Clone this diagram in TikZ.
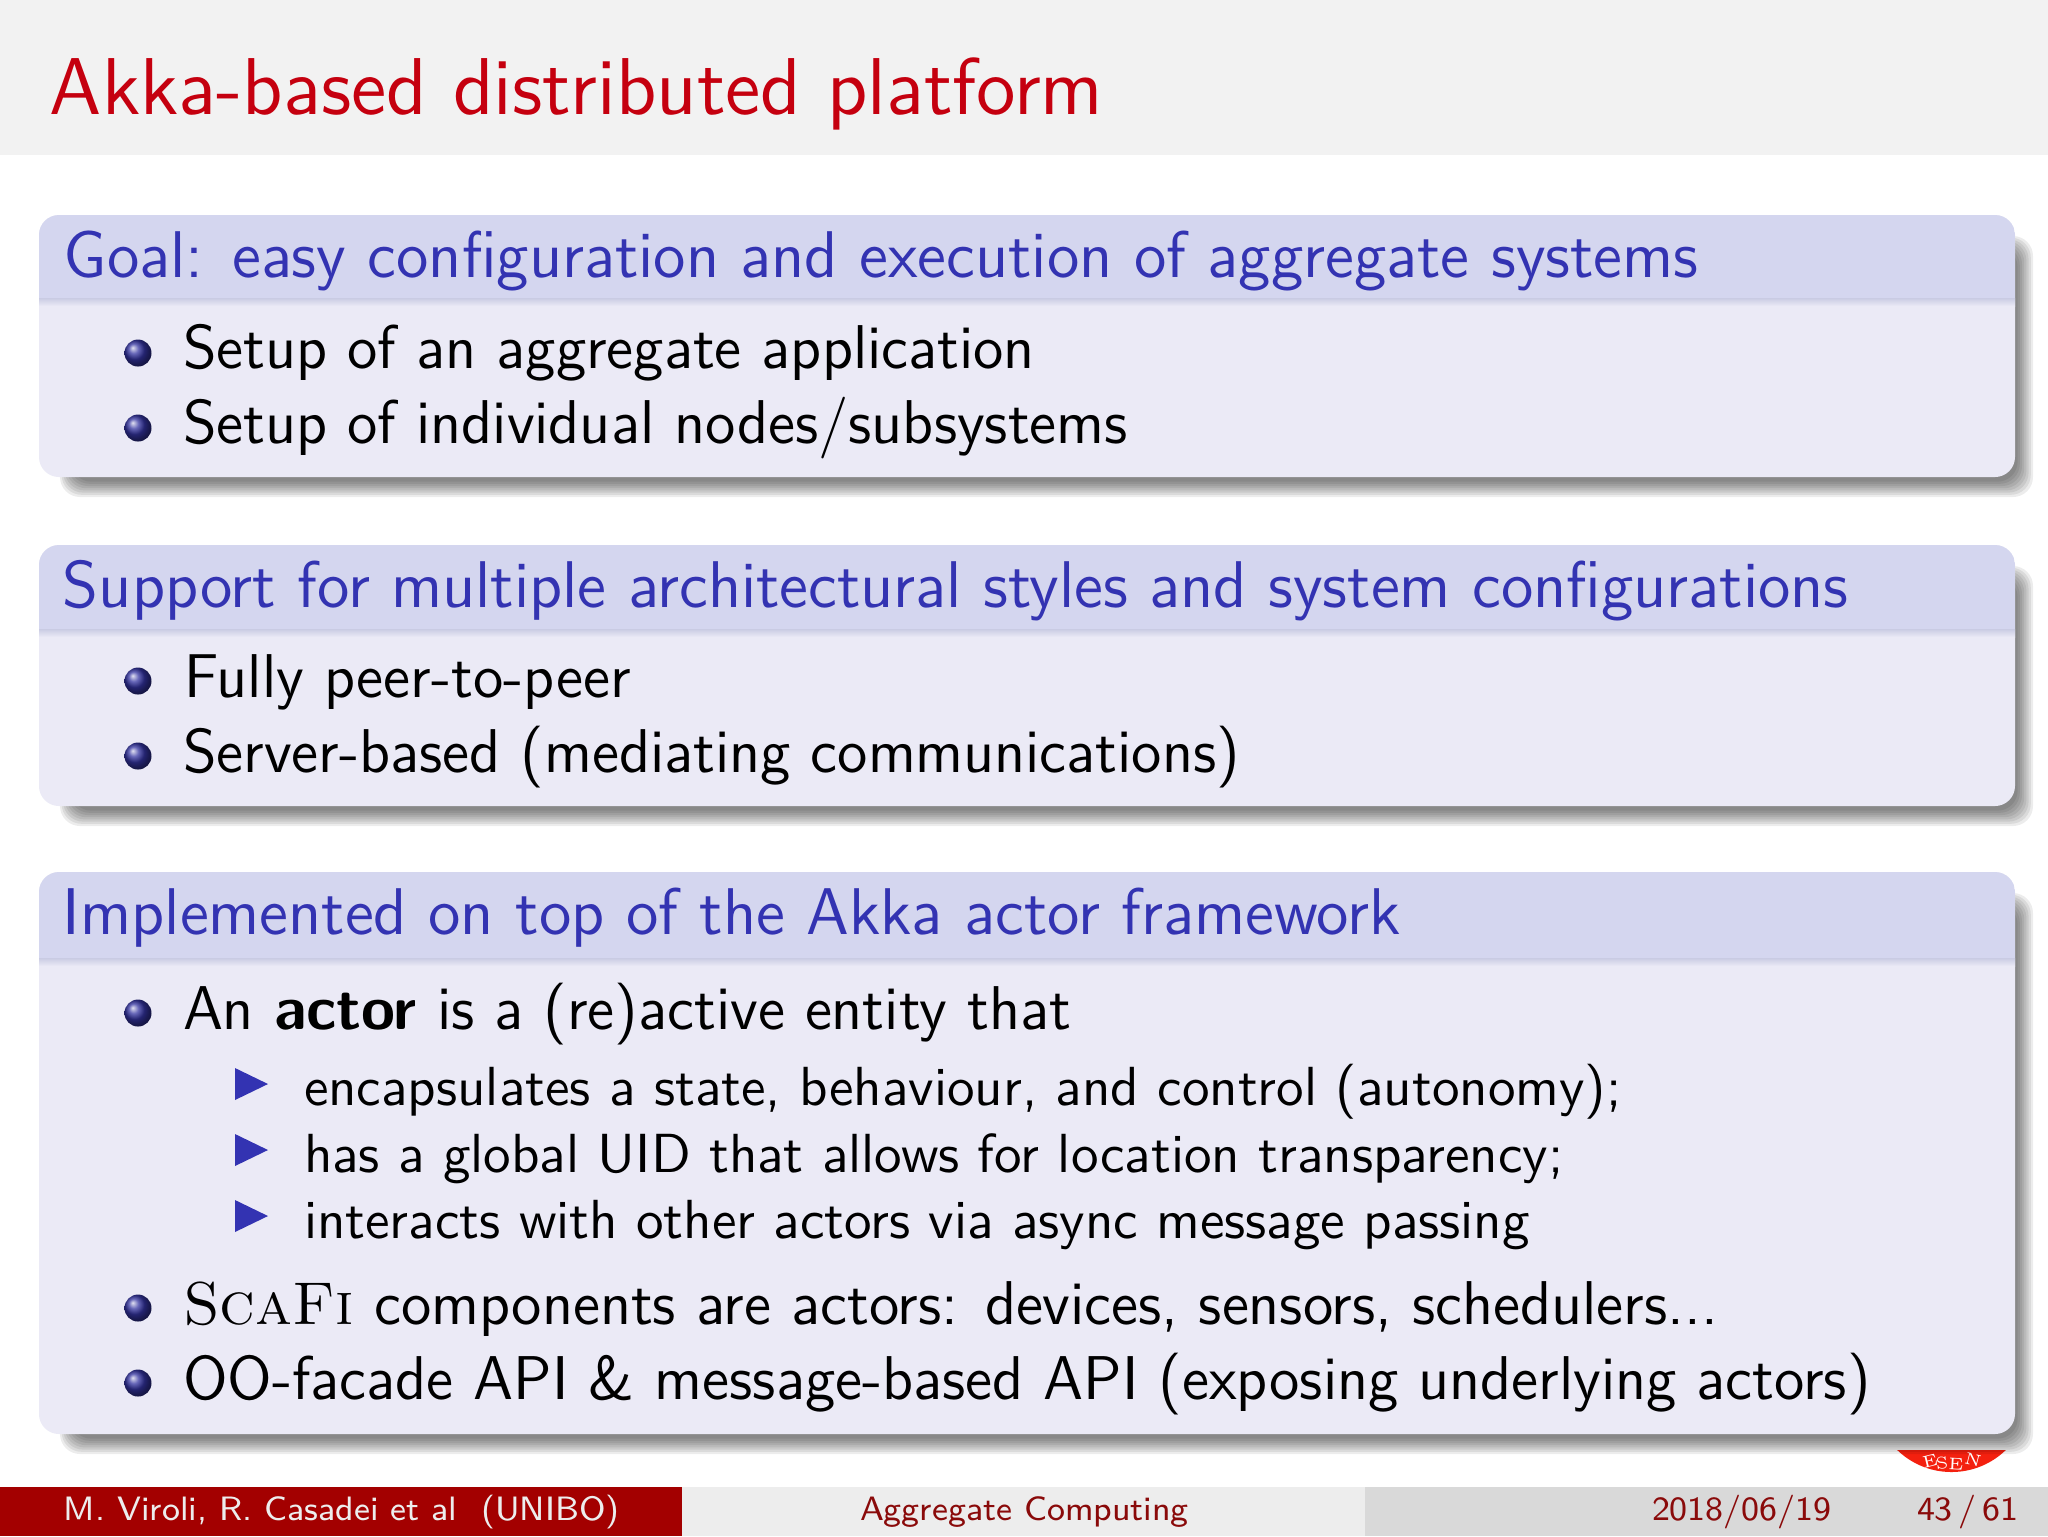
\documentclass[tikz,border=0pt]{standalone}
\usetikzlibrary{shadings}
\definecolor{hdr}{HTML}{D4D6EF}
\definecolor{bodyc}{HTML}{EBEAF6}
\definecolor{blockblue}{HTML}{3333B2}
\definecolor{balldark}{HTML}{3333A0}
\definecolor{titlered}{HTML}{C5000F}
\definecolor{footred}{HTML}{A30000}
\definecolor{footmid}{HTML}{EDEDED}
\definecolor{footright}{HTML}{D9D9D9}
\definecolor{topband}{HTML}{F2F2F2}
\definecolor{foottext}{HTML}{8A0A0A}
\definecolor{logored}{HTML}{F4200F}
\tikzset{
  txt/.style={anchor=base west,inner sep=0pt,outer sep=0pt,font=\sffamily},
  maintxt/.style={txt,font=\fontsize{11}{13}\sffamily,text=black,scale=0.9972},
  subtxt/.style={txt,font=\fontsize{9.77}{12}\sffamily,text=black},
  headtxt/.style={txt,font=\fontsize{11.72}{14}\sffamily,text=blockblue},
  foottxt/.style={txt,font=\fontsize{6}{8}\sffamily},
  logotxt/.style={inner sep=0pt,outer sep=0pt,text=white,font=\fontsize{3}{3.5}\rmfamily},
  corner/.style={rounded corners=3.55pt},
}
\newcommand{\ballat}[2]{\shade[ball color=balldark] (#1,#2) circle (13.5);}
\newcommand{\triat}[1]{\fill[blockblue] (235,#1-16) -- (268,#1) -- (235,#1+16) -- cycle;}
\newcommand{\blockat}[3]{%
  \foreach \i in {0,...,7}{
    \fill[black,opacity=0.075,corner]
      (60+\i*1.6,#1+21+\i*1.6) rectangle (2033-\i*2.2,#2+20-\i*2.2);
  }
  \fill[bodyc,corner] (39,#1) rectangle (2015,#2);
  \begin{scope}
    \clip[corner] (39,#1) rectangle (2015,#2);
    \fill[hdr] (39,#1) rectangle (2015,#3-2);
    \shade[top color=hdr!95!black,bottom color=bodyc] (39,#3-2) rectangle (2015,#3+6);
  \end{scope}
}
\begin{document}
\begin{tikzpicture}[x=0.17744pt,y=-0.17744pt]
\useasboundingbox (0,0) rectangle (2048,1536);
\fill[white] (0,0) rectangle (2048,1536);
\fill[topband] (0,0) rectangle (2048,155);
\node[txt,font=\fontsize{14.3}{17}\sffamily,text=titlered] (title) at (50,114) {Akka-based distributed platform};

% logo remnant
\begin{scope}
  \clip (1890,1450) rectangle (2010,1480);
  \fill[logored] (1951.5,1394) circle (78);
\end{scope}
\node[logotxt,rotate=14] (l1) at (1930,1461) {E};
\node[logotxt,rotate=6] (l2) at (1942,1463) {S};
\node[logotxt,rotate=-3] (l3) at (1956,1464) {E};
\node[logotxt,rotate=-14] (l4) at (1973,1460) {N};

% block 1
\blockat{215}{477}{300}
\node[headtxt] (h1) at (64,277) {Goal: easy configuration and execution of aggregate systems};
\ballat{138}{353}
\node[maintxt] (a1) at (183,368) {Setup of an aggregate application};
\ballat{138}{428}
\node[maintxt] (a2) at (183,443) {Setup of individual nodes/subsystems};

% block 2
\blockat{545}{806}{631}
\node[headtxt] (h2) at (63,607) {Support for multiple architectural styles and system configurations};
\ballat{138}{681}
\node[maintxt] (b1) at (184,697) {Fully peer-to-peer};
\ballat{138}{756}
\node[maintxt] (b2) at (183,772) {Server-based (mediating communications)};

% block 3
\blockat{872}{1434}{960}
\node[headtxt] (h3) at (63,934) {Implemented on top of the Akka actor framework};
\ballat{138}{1013}
\node[maintxt] (c1) at (183,1029) {An \textbf{actor} is a (re)active entity that};
\triat{1084}
\node[subtxt] (s1) at (304,1105) {encapsulates a state, behaviour, and control (autonomy);};
\triat{1150}
\node[subtxt] (s2) at (304,1172) {has a global UID that allows for location transparency;};
\triat{1216}
\node[subtxt] (s3) at (304,1238) {interacts with other actors via async message passing};
\ballat{138}{1308}
\node[maintxt] (c2) at (183,1324) {{\rmfamily\fontsize{10.75}{13}\selectfont\textsc{ScaFi}} components are actors: devices, sensors, schedulers...};
\ballat{138}{1383}
\node[maintxt] (c3) at (183,1399) {OO-facade API \& message-based API (exposing underlying actors)};

% footer
\fill[footred] (0,1487) rectangle (682,1536);
\fill[footmid] (682,1487) rectangle (1365,1536);
\fill[footright] (1365,1487) rectangle (2048,1536);
\node[foottxt,text=footmid] (f1) at (64,1520) {M. Viroli, R. Casadei et al\ \ (UNIBO)};
\node[foottxt,text=foottext] (f2) at (860,1520) {Aggregate Computing};
\node[foottxt,text=foottext] (f3) at (1652,1520) {2018/06/19};
\node[foottxt,text=foottext] (f4) at (1917,1520) {43\,/\,61};
\end{tikzpicture}
\end{document}
